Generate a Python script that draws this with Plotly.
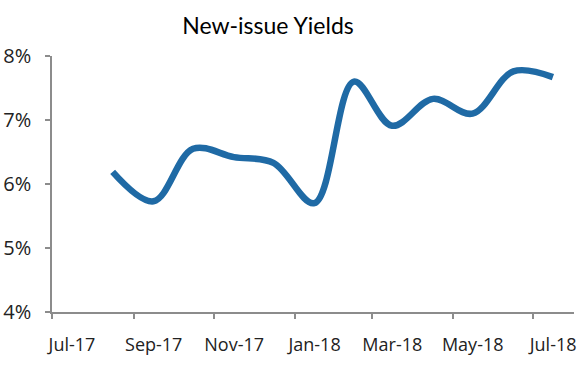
import plotly.graph_objects as go

months = ["2017-08-16", "2017-09-16", "2017-10-16", "2017-11-16", "2017-12-16",
          "2018-01-16", "2018-02-15", "2018-03-16", "2018-04-16", "2018-05-16",
          "2018-06-16", "2018-07-16"]
yields = [6.19, 5.73, 6.55, 6.42, 6.33, 5.70, 7.60, 6.91, 7.33, 7.10, 7.76, 7.67]

tick_dates = ["2017-07-01", "2017-09-01", "2017-11-01", "2018-01-01",
              "2018-03-01", "2018-05-01", "2018-07-01"]
tick_labels = ["Jul-17", "Sep-17", "Nov-17", "Jan-18", "Mar-18", "May-18", "Jul-18"]
y_ticks = [4, 5, 6, 7, 8]
y_labels = ["4%", "5%", "6%", "7%", "8%"]

axis_color = "#8c8c8c"

fig = go.Figure()
fig.add_trace(go.Scatter(
    x=months, y=yields, mode="lines",
    line=dict(color="#1F6AA5", width=6.5, shape="spline", smoothing=1.0),
    hoverinfo="skip",
))

fig.update_layout(
    width=587, height=368,
    margin=dict(l=52, r=13, t=56, b=56, autoexpand=False),
    paper_bgcolor="white", plot_bgcolor="white",
    showlegend=False,
    title=dict(text="New-issue Yields", x=268 / 587, xanchor="center", xref="container",
               y=1 - 26 / 368, yanchor="middle", yref="container",
               font=dict(family="Lato", size=23, color="#000000")),
    xaxis=dict(
        type="date", range=["2017-07-01", "2018-08-01"], automargin=False,
        tickmode="array", tickvals=tick_dates, ticktext=tick_labels,
        ticks="outside", ticklen=5, tickwidth=1.5, tickcolor=axis_color,
        showline=True, linecolor=axis_color, linewidth=1.5,
        showgrid=False, zeroline=False,
        ticklabelshift=20, ticklabelstandoff=11,
        tickfont=dict(family="Open Sans", size=18, color="#222222"),
    ),
    yaxis=dict(
        range=[4, 8], automargin=False,
        tickmode="array", tickvals=y_ticks, ticktext=y_labels,
        ticks="outside", ticklen=5, tickwidth=1.5, tickcolor=axis_color,
        showline=True, linecolor=axis_color, linewidth=1.5,
        showgrid=False, zeroline=False,
        ticklabelstandoff=10,
        tickfont=dict(family="Open Sans", size=20, color="#222222"),
    ),
)

fig.write_html("out.html", config={"displayModeBar": False},
               post_script="document.body.style.margin='0';")
